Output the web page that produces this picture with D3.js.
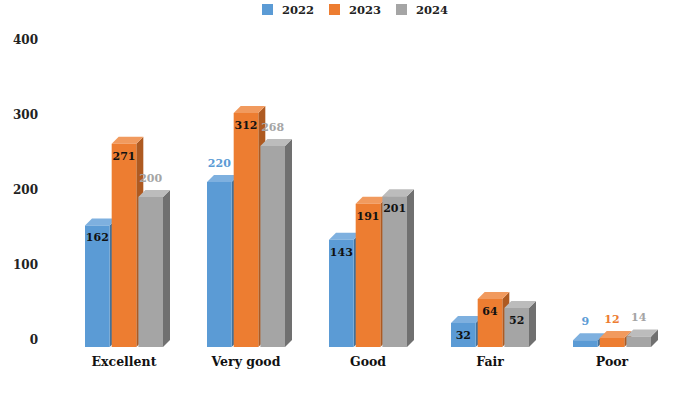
<!DOCTYPE html>
<html>
<head>
<meta charset="utf-8">
<script src="https://cdn.jsdelivr.net/npm/d3@7"></script>
<style>
  body { margin: 0; background: #fff; }
  text { font-family: "DejaVu Serif", "Liberation Serif", serif; font-weight: bold; }
</style>
</head>
<body>
<div id="chart"></div>
<script>
const categories = ['Excellent', 'Very good', 'Good', 'Fair', 'Poor'];
const years = ['2022', '2023', '2024'];
const values2022 = [162, 220, 143, 32, 9];
const values2023 = [271, 312, 191, 64, 12];
const values2024 = [200, 268, 201, 52, 14];
// which labels Excel put above the bar instead of inside
const outside2022 = [false, true, false, false, true];
const outside2023 = [false, false, false, false, true];
const outside2024 = [true, true, false, false, true];
const yTicks = [0, 100, 200, 300, 400];

const width = 688;
const height = 394;
const depth = 7; // 3d offset of the bars

const series = [
    { year: '2022', values: values2022, outside: outside2022, front: '#5b9bd5', top: '#7eb0df', side: '#41719c' },
    { year: '2023', values: values2023, outside: outside2023, front: '#ed7d31', top: '#f19a5e', side: '#ae5a21' },
    { year: '2024', values: values2024, outside: outside2024, front: '#a5a5a5', top: '#bcbcbc', side: '#707070' },
];

const svg = d3.select('#chart').append('svg')
    .attr('width', width)
    .attr('height', height);

const x0 = d3.scaleBand().domain(categories).range([63, 673]);
const x1 = d3.scaleBand().domain(years).range([-39, 39]).paddingInner(0.077);
const y = d3.scaleLinear().domain([0, 400]).range([340, 40]); // back wall
const base = y(0) + depth;

// y axis
const yAxis = svg.append('g')
    .attr('transform', 'translate(38,0)')
    .call(d3.axisLeft(y).tickValues(yTicks).tickSize(0).tickPadding(0));
yAxis.select('.domain').remove();
yAxis.selectAll('text')
    .style('font-size', '12px')
    .style('font-family', '"DejaVu Serif", serif')
    .attr('fill', '#222');

// category labels
const xAxis = svg.append('g')
    .attr('transform', `translate(0,${base})`)
    .call(d3.axisBottom(x0).tickSize(0).tickPadding(10));
xAxis.select('.domain').remove();
xAxis.selectAll('text')
    .style('font-size', '12.5px')
    .style('font-family', '"DejaVu Serif", serif')
    .attr('fill', '#111');

// bars, drawn left to right so the next front face covers the side of the previous one
const bars = [];
categories.forEach((cat, i) => {
    series.forEach((s) => {
        bars.push({ cat, i, s, v: s.values[i] });
    });
});

const bar = svg.selectAll('.bar')
    .data(bars)
    .enter().append('g')
    .attr('class', 'bar');

function geo(d) {
    const xl = x0(d.cat) + x0.bandwidth() / 2 + x1(d.s.year);
    const w = x1.bandwidth();
    const yt = y(d.v) + depth;
    return { xl, w, yt };
}

bar.append('path')
    .attr('fill', d => d.s.side)
    .attr('d', (d) => {
        const g = geo(d);
        return `M${g.xl + g.w},${g.yt}L${g.xl + g.w + depth},${g.yt - depth}L${g.xl + g.w + depth},${base - depth}L${g.xl + g.w},${base}Z`;
    });

bar.append('path')
    .attr('fill', d => d.s.top)
    .attr('d', (d) => {
        const g = geo(d);
        return `M${g.xl},${g.yt}L${g.xl + depth},${g.yt - depth}L${g.xl + g.w + depth},${g.yt - depth}L${g.xl + g.w},${g.yt}Z`;
    });

bar.append('rect')
    .attr('fill', d => d.s.front)
    .attr('x', d => geo(d).xl)
    .attr('y', d => geo(d).yt)
    .attr('width', x1.bandwidth())
    .attr('height', d => base - geo(d).yt);

// value labels
svg.selectAll('.label')
    .data(bars)
    .enter().append('text')
    .attr('class', 'label')
    .attr('x', d => geo(d).xl + x1.bandwidth() / 2)
    .attr('y', d => (d.s.outside[d.i] ? geo(d).yt - 19 : geo(d).yt + 12))
    .attr('dy', '0.35em')
    .attr('text-anchor', 'middle')
    .style('font-size', '11px')
    .attr('fill', d => (d.s.outside[d.i] ? d.s.front : '#111'))
    .text(d => d.v);

// legend
const legend = svg.selectAll('.legend')
    .data(series)
    .enter().append('g')
    .attr('class', 'legend')
    .attr('transform', (d, i) => `translate(${262 + i * 67},4)`);

legend.append('rect')
    .attr('width', 11)
    .attr('height', 11)
    .attr('fill', d => d.front);

legend.append('text')
    .attr('x', 20)
    .attr('y', 6)
    .attr('dy', '0.35em')
    .style('font-size', '11.5px')
    .attr('fill', '#222')
    .text(d => d.year);
</script>
</body>
</html>
